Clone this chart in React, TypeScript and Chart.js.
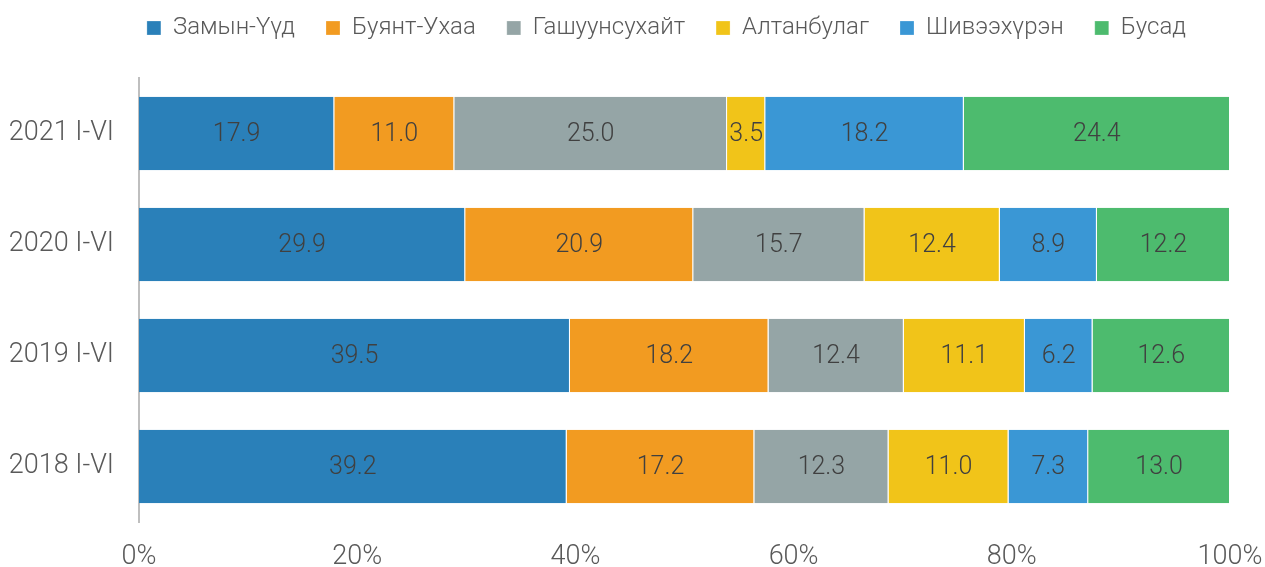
import React, { useEffect, useRef } from "react";
import { Chart, registerables } from "chart.js";

Chart.register(...registerables);

const categories = ["2021 I-VI", "2020 I-VI", "2019 I-VI", "2018 I-VI"];
const seriesNames = ["Замын-Үүд", "Буянт-Ухаа", "Гашуунсухайт", "Алтанбулаг", "Шивээхүрэн", "Бусад"];
const zamynUud = [17.9, 29.9, 39.5, 39.2];
const buyantUkhaa = [11.0, 20.9, 18.2, 17.2];
const gashuunsukhait = [25.0, 15.7, 12.4, 12.3];
const altanbulag = [3.5, 12.4, 11.1, 11.0];
const shiveekhuren = [18.2, 8.9, 6.2, 7.3];
const busad = [24.4, 12.2, 12.6, 13.0];
const seriesValues = [zamynUud, buyantUkhaa, gashuunsukhait, altanbulag, shiveekhuren, busad];
const colors = ["#2a80b9", "#f29b21", "#95a5a6", "#f1c419", "#3a97d5", "#4dbb6e"];
const xTicks = [0, 20, 40, 60, 80, 100];

const FONT = "Roboto";

const labelPlugin = {
  id: "segLabels",
  afterLayout(chart: any) {
    const lg = chart.legend;
    if (lg) {
      lg.left += 34;
      lg.right += 34;
    }
  },
  afterDatasetsDraw(chart: any) {
    const ctx = chart.ctx;
    ctx.save();
    ctx.font = `300 25px ${FONT}`;
    ctx.fillStyle = "#404040";
    ctx.textAlign = "center";
    ctx.textBaseline = "middle";
    chart.data.datasets.forEach((ds: any, di: number) => {
      const meta = chart.getDatasetMeta(di);
      meta.data.forEach((el: any, i: number) => {
        const v = ds.data[i];
        const cx = (el.x + el.base) / 2;
        ctx.fillText(Number(v).toFixed(1), cx, el.y + 1);
      });
    });
    ctx.restore();
  },
};

export default function App() {
  const ref = useRef<HTMLCanvasElement | null>(null);
  useEffect(() => {
    if (!ref.current) return;
    const chart = new Chart(ref.current, {
      type: "bar",
      data: {
        labels: categories,
        datasets: seriesNames.map((name, i) => ({
          label: name,
          data: seriesValues[i],
          backgroundColor: colors[i],
          borderColor: "#ffffff",
          borderWidth: { top: 0, bottom: 0, left: 0, right: 1 },
          borderSkipped: false,
          barPercentage: 0.66,
          categoryPercentage: 1,
        })),
      },
      options: {
        indexAxis: "y",
        animation: false,
        responsive: true,
        maintainAspectRatio: false,
        layout: { padding: { left: 0, right: 0, top: -15, bottom: 0 } },
        font: { family: FONT },
        plugins: {
          legend: {
            position: "top",
            labels: {
              boxWidth: 14,
              boxHeight: 14,
              padding: 31,
              color: "#595959",
              font: { family: FONT, size: 24, weight: "300" },
            },
          },
          title: {
            display: true,
            text: " ",
            weight: 500,
            font: { size: 2, lineHeight: 1 },
            padding: 13,
          } as any,
          tooltip: { enabled: false },
        },
        scales: {
          x: {
            stacked: true,
            min: 0,
            max: 100,
            afterBuildTicks: (scale: any) => {
              scale.ticks = xTicks.map((v) => ({ value: v }));
            },
            afterFit: (scale: any) => {
              scale.height = 45;
              scale.paddingRight = 35;
              scale.paddingLeft = 0;
            },
            grid: { display: false, drawTicks: false },
            border: { display: false },
            ticks: {
              padding: 19,
              color: "#595959",
              font: { family: FONT, size: 27, weight: "300" },
              callback: (v: any) => v + "%",
              maxRotation: 0,
            },
          },
          y: {
            stacked: true,
            afterFit: (scale: any) => {
              scale.width = 139;
            },
            grid: { display: false, drawTicks: false },
            border: { display: true, color: "#bfbfbf", width: 2 },
            ticks: {
              padding: 25,
              color: "#595959",
              font: { family: FONT, size: 27, weight: "300" },
            },
          },
        },
      },
      plugins: [labelPlugin],
    });
    return () => chart.destroy();
  }, []);
  return (
    <div style={{ position: "fixed", left: 0, top: 0, width: 1265, height: 567 }}>
      <canvas ref={ref} />
    </div>
  );
}
